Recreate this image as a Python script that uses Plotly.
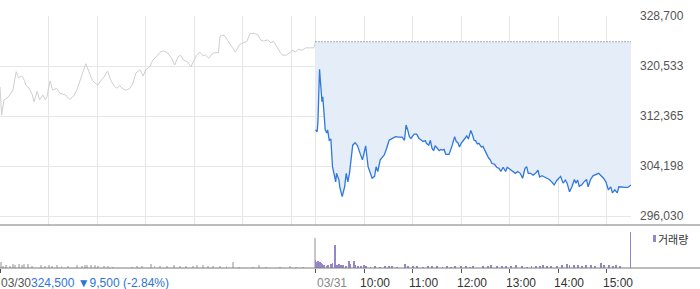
import plotly.graph_objects as go

# ---------------- data ----------------
prev_close = 324500

# day 1 (03/30): minutes from 09:00
day1_min = [0, 2, 5, 9, 12, 16, 20, 23, 27, 30, 32, 36, 40, 42, 46, 49, 53, 56, 58, 62, 65, 70, 74, 78, 81, 86, 91, 95,
            99, 102, 106, 110, 114, 117, 121, 125, 128, 133, 137, 141, 144, 148, 152, 156, 160, 164, 168, 173, 177,
            180, 185, 189, 193, 198, 202, 207, 212, 216, 220, 223, 227, 232, 236, 240, 243, 247, 251, 254, 258, 262,
            265, 270, 272, 277, 281, 286, 291, 296, 300, 305, 309, 314, 319, 322, 326, 331, 335, 338, 342, 346, 349,
            354, 358, 362, 365, 369, 373, 378, 383, 388, 390]
day1_price = [317100, 312500, 315000, 315300, 315800, 316600, 319600, 318600, 318900, 318200, 317400, 316900, 315800,
              314700, 316400, 315000, 315800, 315000, 315500, 318100, 316600, 316900, 316100, 316000, 315800, 315100,
              315600, 316600, 318100, 319100, 320900, 319600, 318200, 317800, 317400, 318200, 318600, 319700, 318200,
              317300, 316900, 317300, 316800, 316600, 316800, 317600, 319400, 319900, 318900, 319900, 320400, 321500,
              322000, 322800, 323000, 322700, 321800, 320700, 322000, 322300, 321500, 321200, 320400, 321500, 322300,
              322800, 322200, 322300, 321800, 322500, 322700, 322700, 325400, 325600, 324800, 323800, 322800, 324000,
              324300, 324500, 325800, 325900, 325600, 324800, 324600, 324800, 324300, 324600, 323600, 322800, 322300,
              322300, 322700, 323100, 322800, 323300, 323100, 323500, 323500, 323500, 324500]

# day 2 (03/31): minutes from 09:00
day2_min = [0, 2, 3, 5, 6, 7, 8, 9, 10, 11, 12, 14, 15, 17, 19, 21, 25, 26, 29, 30, 33, 36, 38, 40, 42, 44, 46, 49, 52,
            55, 58, 60, 62, 65, 68, 70, 73, 75, 77, 80, 83, 85, 88, 91, 95, 99, 103, 107, 110, 112, 114, 116, 118, 122,
            125, 128, 131, 133, 136, 137, 140, 142, 144, 146, 148, 151, 153, 155, 157, 159, 161, 165, 166, 169, 172,
            174, 176, 178, 180, 183, 185, 187, 189, 192, 194, 196, 198, 200, 202, 205, 207, 210, 211, 214, 216, 218,
            221, 224, 227, 229, 232, 235, 237, 240, 244, 247, 250, 253, 256, 259, 261, 263, 266, 269, 272, 275, 277,
            280, 283, 286, 289, 292, 295, 298, 301, 303, 306, 309, 311, 314, 317, 320, 322, 324, 326, 329, 332, 335,
            337, 340, 343, 347, 350, 353, 356, 359, 362, 365, 367, 370, 373, 375, 379, 383, 386, 390]
day2_price = [310100, 309800, 311400, 320000, 318200, 315800, 314700, 315500, 314200, 312000, 310100, 309600, 310100,
              308400, 308600, 304100, 301600, 303000, 301900, 300800, 299200, 300800, 303000, 301600, 303000, 305700,
              307600, 308000, 307500, 306300, 305200, 306300, 307500, 304100, 303100, 302200, 302500, 304100, 303300,
              305200, 305700, 306000, 307100, 308400, 308700, 309000, 308900, 308900, 308400, 310900, 310100, 309000,
              308700, 309400, 309400, 308700, 308400, 308200, 308300, 307900, 307600, 308400, 307100, 306700, 307500,
              307100, 306700, 306900, 306800, 306900, 306100, 306100, 306400, 307600, 309000, 308200, 308000, 307300,
              307900, 308400, 308700, 309100, 308600, 310000, 309300, 308400, 308300, 307800, 307900, 307300, 307400,
              306500, 306300, 305500, 305200, 304600, 304500, 304000, 303800, 303300, 304000, 303300, 304000, 303700,
              303400, 303000, 303300, 303000, 302200, 303800, 304100, 303000, 303000, 302700, 303000, 303500, 302400,
              302600, 302400, 302200, 302000, 301600, 301100, 301800, 302200, 302500, 301400, 301900, 301400, 300000,
              300800, 302000, 301400, 301900, 300900, 301100, 301600, 302000, 300800, 302000, 302600, 302900, 303000,
              302600, 302200, 301600, 300300, 300800, 299800, 300300, 299800, 300800, 300700, 300700, 300700, 301100]

# volume (shares)
day1_vol_min = [1, 4, 8, 12, 16, 19, 23, 27, 30, 35, 40, 51, 56, 60, 64, 71, 76, 84, 95, 101, 105, 108, 112, 117, 121,
                128, 134, 140, 163, 169, 175, 187, 191, 198, 206, 215, 222, 230, 238, 243, 251, 257, 263, 272, 280,
                288, 296, 313, 320, 329, 346, 359, 366, 374, 389]
day1_vol = [12000, 5000, 6000, 4000, 8000, 6000, 8000, 6000, 8000, 8000, 4000, 6000, 4000, 6000, 4000, 6000, 4000,
            4000, 6000, 4000, 6000, 6000, 6000, 6000, 4000, 4000, 4000, 2000, 2000, 4000, 4000, 8600, 4000, 4000, 4000,
            6000, 4000, 4000, 4000, 6000, 6000, 4000, 4000, 4000, 4000, 12000, 2000, 2000, 6000, 2000, 2000, 4000,
            2000, 2000, 60000]
day2_vol_min = [0, 2, 3, 5, 7, 8, 11, 14, 16, 19, 21, 24, 26, 29, 32, 34, 38, 41, 43, 47, 49, 53, 56, 60, 63, 68, 74,
                80, 86, 91, 95, 101, 111, 114, 120, 126, 133, 139, 144, 150, 157, 162, 168, 172, 180, 186, 191, 195,
                207, 213, 217, 224, 230, 236, 242, 248, 255, 261, 267, 273, 277, 281, 286, 291, 298, 305, 311, 314,
                320, 324, 329, 334, 340, 345, 353, 357, 363, 368, 372, 376, 390]
day2_vol = [16000, 12000, 14000, 12000, 10000, 8000, 6000, 4000, 6000, 8000, 10000, 46000, 6000, 8000, 6000, 6000,
            4000, 14000, 8000, 14000, 6000, 4000, 4000, 6000, 4000, 2000, 4000, 2000, 4000, 4000, 4000, 2000, 8000,
            4000, 4000, 4000, 2000, 4000, 4000, 4000, 2000, 4000, 2000, 4000, 4000, 4000, 2000, 4000, 4000, 4000,
            6000, 4000, 4000, 4000, 4000, 6000, 4000, 2000, 4000, 4000, 4000, 6000, 4000, 4000, 4000, 6000, 8000,
            6000, 6000, 6000, 4000, 6000, 6000, 4000, 10000, 6000, 6000, 4000, 6000, 4000, 73000]

y_ticks = [296030, 304198, 312365, 320533, 328700]
time_labels = ["10:00", "11:00", "12:00", "13:00", "14:00", "15:00"]
day_labels = ["03/30", "03/31"]
summary_text = "324,500 ▼9,500 (-2.84%)"
volume_label = "거래량"

SESSION = 390  # minutes per session

# ---------------- figure ----------------
W, H = 700, 289
PLOT_W = 631
main_dom = [(H - 225) / H, (H - 16) / H]
vol_dom = [(H - 268) / H, (H - 226) / H]

day1_x = list(day1_min)
day2_x = [m + SESSION for m in day2_min]
day1_vx = list(day1_vol_min)
day2_vx = [m + SESSION for m in day2_vol_min]

fig = go.Figure()
fig.add_trace(go.Scatter(x=day1_x, y=day1_price, mode="lines",
                         line=dict(color="#cfcfd3", width=1), hoverinfo="skip"))
fig.add_trace(go.Scatter(x=[SESSION, 2 * SESSION], y=[prev_close, prev_close], mode="lines",
                         line=dict(color="#666666", width=1, dash="1px,2px"), hoverinfo="skip"))
fig.add_trace(go.Scatter(x=day2_x, y=day2_price, mode="lines",
                         line=dict(color="#2f78dc", width=1.3),
                         fill="tonexty", fillcolor="rgba(229,237,249,1)", hoverinfo="skip"))

fig.add_trace(go.Bar(x=day1_vx, y=day1_vol, width=1.2, marker=dict(color="#c8c8cc", line=dict(width=0)),
                     xaxis="x2", yaxis="y2", hoverinfo="skip"))
fig.add_trace(go.Bar(x=day2_vx, y=day2_vol, width=1.2, marker=dict(color="#9785c9", line=dict(width=0)),
                     xaxis="x2", yaxis="y2", hoverinfo="skip"))

hour_grid = [60 * i for i in range(1, 7)] + [SESSION] + [SESSION + 60 * i for i in range(1, 7)]

fig.update_layout(
    width=W, height=H,
    margin=dict(l=0, r=W - PLOT_W, t=0, b=0, pad=0, autoexpand=False),
    paper_bgcolor="white", plot_bgcolor="white",
    showlegend=False,
    bargap=0,
    font=dict(family="Liberation Sans, Arial, sans-serif", size=12, color="#555555"),
    xaxis=dict(domain=[0, 1], range=[0, 2 * SESSION], anchor="y", tickvals=hour_grid, automargin=False,
               showticklabels=False, ticks="", showgrid=True, gridcolor="#e6e6e6", gridwidth=1,
               zeroline=False, showline=False, fixedrange=True),
    yaxis=dict(domain=main_dom, range=[294560, 328700], side="right", tickvals=y_ticks, automargin=False,
               ticktext=[f"{v:,}" for v in y_ticks], showgrid=True, gridcolor="#e6e6e6",
               zeroline=False, showline=False, ticks="", ticklabelstandoff=8,
               tickfont=dict(size=12, color="#555555"), fixedrange=True),
    xaxis2=dict(domain=[0, 1], range=[0, 2 * SESSION], anchor="y2", automargin=False,
                tickvals=[0] + [SESSION] + [SESSION + 60 * i for i in range(1, 7)],
                showticklabels=False, ticks="outside", ticklen=4, tickcolor="#555555", tickwidth=1,
                showgrid=False, zeroline=False, showline=False, fixedrange=True),
    yaxis2=dict(domain=vol_dom, range=[0, 84000], visible=False, fixedrange=True, automargin=False),
)

# separators spanning the full width
for yp in (main_dom[0], vol_dom[0]):
    fig.add_shape(type="line", xref="paper", yref="paper", x0=0, x1=W / PLOT_W, y0=yp, y1=yp,
                  line=dict(color="#7a7a7a", width=1))

# legend marker for volume
fig.add_shape(type="rect", xref="paper", yref="paper",
              x0=653 / PLOT_W, x1=656 / PLOT_W, y0=(H - 242) / H, y1=(H - 235) / H,
              line=dict(width=0), fillcolor="#9785c9")
fig.add_annotation(text=volume_label, xref="paper", yref="paper", x=656 / PLOT_W, y=(H - 238.5) / H,
                   xanchor="left", yanchor="middle", showarrow=False,
                   font=dict(family="Noto Sans CJK KR", size=11, color="#333333"))

lab_y = (H - 282.5) / H
fig.add_annotation(text=day_labels[0], xref="paper", yref="paper", x=0, y=lab_y, xanchor="left",
                   yanchor="middle", showarrow=False, xshift=-1, font=dict(size=12, color="#555555"))
fig.add_annotation(text=summary_text, xref="paper", yref="paper", x=29 / PLOT_W, y=lab_y, xanchor="left",
                   yanchor="middle", showarrow=False, font=dict(size=12, color="#2f74d8"))
fig.add_annotation(text=day_labels[1], xref="x2", yref="paper", x=SESSION, y=lab_y, xanchor="left",
                   yanchor="middle", showarrow=False, xshift=-1, font=dict(size=12, color="#888888"))
for i, t in enumerate(time_labels):
    fig.add_annotation(text=t, xref="x2", yref="paper", x=SESSION + 60 * (i + 1), y=lab_y, xanchor="left",
                       yanchor="middle", showarrow=False, xshift=-6, font=dict(size=12, color="#333333"))

fig.write_html("out.html")
